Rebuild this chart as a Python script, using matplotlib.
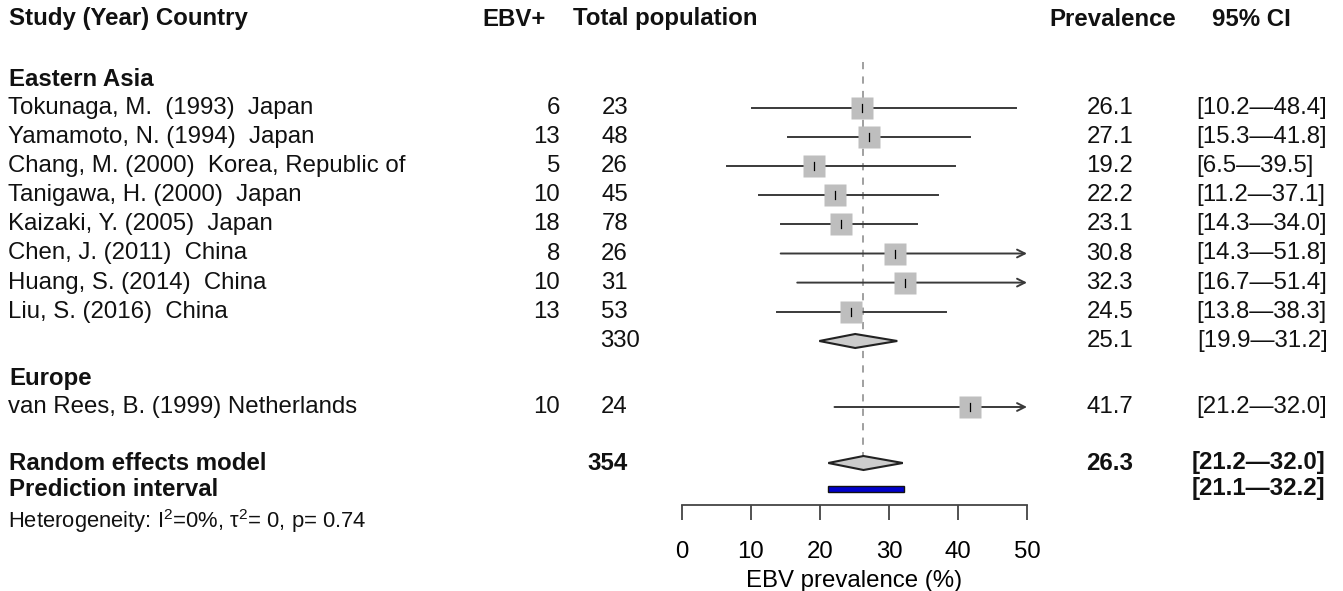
import matplotlib
matplotlib.use("Agg")
import matplotlib.pyplot as plt
from matplotlib.patches import Polygon, Rectangle
from matplotlib import transforms

plt.rcParams["font.family"] = ["Liberation Sans", "DejaVu Sans"]
plt.rcParams["mathtext.fontset"] = "custom"
plt.rcParams["mathtext.rm"] = "Liberation Sans"
plt.rcParams["mathtext.it"] = "Liberation Sans"

DASH = "\u2014"

# ---- data ----
studies = ["Tokunaga, M.  (1993)  Japan", "Yamamoto, N. (1994)  Japan",
           "Chang, M. (2000)  Korea, Republic of", "Tanigawa, H. (2000)  Japan",
           "Kaizaki, Y. (2005)  Japan", "Chen, J. (2011)  China",
           "Huang, S. (2014)  China", "Liu, S. (2016)  China"]
ebv_pos = [6, 13, 5, 10, 18, 8, 10, 13]
totals = [23, 48, 26, 45, 78, 26, 31, 53]
prev = [26.1, 27.1, 19.2, 22.2, 23.1, 30.8, 32.3, 24.5]
ci_lo = [10.2, 15.3, 6.5, 11.2, 14.3, 14.3, 16.7, 13.8]
ci_hi = [48.4, 41.8, 39.5, 37.1, 34.0, 51.8, 51.4, 38.3]
ci_text = ["[10.2" + DASH + "48.4]", "[15.3" + DASH + "41.8]", "[6.5" + DASH + "39.5]",
           "[11.2" + DASH + "37.1]", "[14.3" + DASH + "34.0]", "[14.3" + DASH + "51.8]",
           "[16.7" + DASH + "51.4]", "[13.8" + DASH + "38.3]"]

asia_total, asia_prev, asia_lo, asia_hi = 330, 25.1, 19.9, 31.2
asia_ci_text = "[19.9" + DASH + "31.2]"

eu_study = "van Rees, B. (1999) Netherlands"
eu_ebv, eu_total, eu_prev, eu_lo, eu_hi = 10, 24, 41.7, 22.1, 63.4
eu_ci_text = "[21.2" + DASH + "32.0]"

re_total, re_prev, re_lo, re_hi = 354, 26.3, 21.2, 32.0
re_ci_text = "[21.2" + DASH + "32.0]"
pi_lo, pi_hi = 21.1, 32.2
pi_ci_text = "[21.1" + DASH + "32.2]"

xticks = [0, 10, 20, 30, 40, 50]

# ---- layout (pixels) ----
W, H = 1343, 591
FS = 17.3
y_head = 19
y_group1 = 79
y_study = [108 + 29.1 * i for i in range(len(studies))]
y_sub1 = 341
y_group2 = 378
y_eu = 407
y_re = 463
y_pi = 489
y_het = 521
axis_y = 505

fig = plt.figure(figsize=(W / 100, H / 100), dpi=100)
ax = fig.add_axes([682 / W, 1 - axis_y / H, (1027 - 682) / W, axis_y / H])
ax.set_xlim(0, 50)
ax.set_ylim(axis_y, 0)
for s in ["top", "right", "left"]:
    ax.spines[s].set_visible(False)
ax.spines["bottom"].set_color("#444444")
ax.spines["bottom"].set_linewidth(1.3)
ax.set_yticks([])
ax.set_xticks(xticks)
ax.tick_params(axis="x", direction="out", length=11, width=1.3, color="#444444",
               labelsize=FS, pad=15)
ax.set_xlabel("EBV prevalence (%)", fontsize=FS, labelpad=5)
ax.patch.set_alpha(0)

# text columns: x in figure pixels, y in row pixels
tr = transforms.blended_transform_factory(
    transforms.Affine2D().scale(1 / W, 1) + fig.transFigure, ax.transData)


def txt(x, y, s, ha="left", bold=False, size=FS):
    ax.text(x, y, s, transform=tr, ha=ha, va="center", fontsize=size,
            fontweight="bold" if bold else "normal", color="#111111", clip_on=False)


line_col = "#3a3a3a"
sq_col = "#bebebe"


def study_row(y, p, lo, hi):
    if hi > 50:
        ax.annotate("", xy=(50, y), xytext=(lo, y),
                    arrowprops=dict(arrowstyle="->", color=line_col, lw=1.4,
                                    mutation_scale=14, shrinkA=0, shrinkB=0))
    else:
        ax.plot([lo, hi], [y, y], color=line_col, lw=1.4, zorder=2)
    ax.plot(p, y, marker="s", ms=16, color=sq_col, mec="none", zorder=3)
    ax.plot([p, p], [y - 4, y + 4], color="black", lw=0.9, zorder=4)


def diamond(y, p, lo, hi, h=7):
    ax.add_patch(Polygon([(lo, y), (p, y - h), (hi, y), (p, y + h)], closed=True,
                         fc="#cccccc", ec="#222222", lw=1.5, zorder=3))


# reference line at the overall estimate
ax.plot([re_prev, re_prev], [62, y_re - 7], color="#999999", lw=1.3,
        ls=(0, (4, 4)), zorder=1)

# headers
txt(9, y_head, "Study (Year) Country", bold=True)
txt(482, y_head, "EBV+", bold=True)
txt(573, y_head, "Total population", bold=True)
txt(1049, y_head, "Prevalence", bold=True)
txt(1212, y_head, "95% CI", bold=True)

# Eastern Asia
txt(9, y_group1, "Eastern Asia", bold=True)
for i, name in enumerate(studies):
    y = y_study[i]
    txt(8, y, name)
    txt(560, y, str(ebv_pos[i]), ha="right")
    txt(628, y, str(totals[i]), ha="right")
    txt(1133, y, f"{prev[i]:.1f}", ha="right")
    txt(1196, y, ci_text[i])
    study_row(y, prev[i], ci_lo[i], ci_hi[i])

txt(640, y_sub1, str(asia_total), ha="right")
txt(1133, y_sub1, f"{asia_prev:.1f}", ha="right")
txt(1197, y_sub1, asia_ci_text)
diamond(y_sub1, asia_prev, asia_lo, asia_hi)

# Europe
txt(9, y_group2, "Europe", bold=True)
txt(8, y_eu, eu_study)
txt(560, y_eu, str(eu_ebv), ha="right")
txt(628, y_eu, str(eu_total), ha="right")
txt(1133, y_eu, f"{eu_prev:.1f}", ha="right")
txt(1196, y_eu, eu_ci_text)
study_row(y_eu, eu_prev, eu_lo, eu_hi)

# overall
txt(9, y_re, "Random effects model", bold=True)
txt(628, y_re, str(re_total), ha="right", bold=True)
txt(1133, y_re, f"{re_prev:.1f}", ha="right", bold=True)
txt(1192, y_re, re_ci_text, bold=True)
diamond(y_re, re_prev, re_lo, re_hi)

txt(9, y_pi, "Prediction interval", bold=True)
txt(1192, y_pi, pi_ci_text, bold=True)
ax.add_patch(Rectangle((pi_lo, y_pi - 3), pi_hi - pi_lo, 6, fc="#0000cc",
                       ec="#111111", lw=1.0, zorder=3))

txt(8, y_het, r"Heterogeneity: I$^{2}$=0%, τ$^{2}$= 0, p= 0.74", size=15.8)

fig.savefig("out.png", dpi=100, facecolor="white")
